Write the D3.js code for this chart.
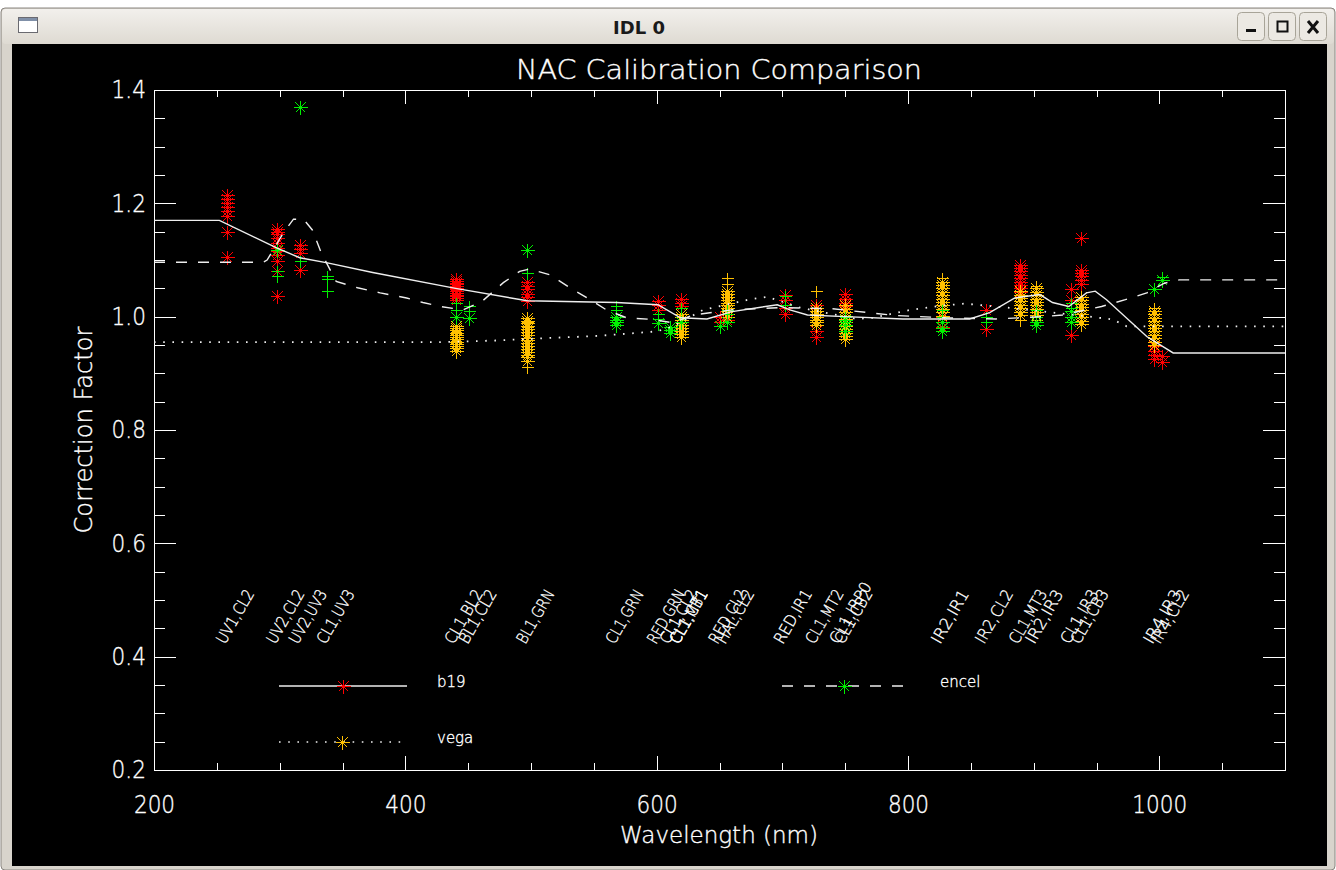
<!DOCTYPE html>
<html>
<head>
<meta charset="utf-8">
<script src="https://cdn.jsdelivr.net/npm/d3@7"></script>
<style>
  html, body { margin: 0; padding: 0; background: #ffffff; }
  svg { display: block; }
  .thin { font-family: "DejaVu Sans", sans-serif; font-weight: 200; fill: #ffffff; stroke: #ffffff; stroke-width: 0.35px; }
</style>
</head>
<body>
<svg id="chart" width="1336" height="870"></svg>
<script>
// ---- filter combinations and their effective wavelengths (nm) ----
const filterLabels = ["UV1,CL2","UV2,CL2","UV2,UV3","CL1,UV3","CL1,BL2","BL1,CL2","BL1,GRN",
  "CL1,GRN","RED,GRN","CL1,CL2","CL1,MT1","CL1,CB1","RED,CL2","HAL,CL2","RED,IR1","CL1,MT2",
  "CL1,IRP0","CL1,CB2","IR2,IR1","IR2,CL2","CL1,MT3","IR2,IR3","CL1,IR3","CL1,CB3","IR4,IR3","IR4,CL2"];
const filterWaves = [258,298,316,338,440,451,497,568,601,611,619,619,650,656,702,727,746,750,
  827,862,889,902,930,938,996,1002];

// ---- axis ticks ----
const xMajorTicks = [200,400,600,800,1000];
const yMajorTicks = [0.2,0.4,0.6,0.8,1.0,1.2,1.4];

// ---- correction curves: [wavelength, factor] ----
const b19Curve = [[200,1.170],[252,1.170],[298,1.121],[316,1.104],[338,1.095],[374,1.078],
  [440,1.050],[497,1.028],[568,1.025],[601,1.021],[619,0.998],[640,0.996],[660,1.009],
  [696,1.021],[706,1.012],[720,1.003],[750,1.000],[796,0.996],[849,0.996],[865,1.007],
  [885,1.033],[905,1.039],[915,1.025],[928,1.018],[942,1.042],[949,1.045],[958,1.030],
  [990,0.965],[1011,0.936],[1100,0.936]];
const encelCurve = [[200,1.096],[287,1.096],[290,1.100],[303,1.148],[311,1.172],[319,1.172],
  [326,1.153],[333,1.113],[345,1.062],[362,1.051],[380,1.042],[401,1.033],[414,1.025],
  [428,1.018],[446,1.012],[461,1.027],[478,1.060],[491,1.080],[499,1.084],[515,1.074],
  [531,1.051],[547,1.030],[560,1.012],[576,0.998],[597,0.995],[613,0.989],[629,1.003],
  [660,1.012],[700,1.016],[740,1.014],[790,1.002],[830,0.998],[870,0.996],[908,1.000],
  [923,1.003],[954,1.018],[973,1.030],[990,1.042],[1004,1.059],[1016,1.065],[1100,1.065]];
const vegaCurve = [[200,0.955],[427,0.955],[473,0.958],[510,0.962],[553,0.966],[600,0.974],
  [613,0.983],[637,1.012],[673,1.030],[688,1.035],[714,1.016],[759,0.996],[772,0.998],
  [802,1.012],[825,1.019],[845,1.023],[879,1.016],[945,1.000],[963,0.995],[974,0.983],
  [1100,0.983]];

// ---- measured factors: [wavelength, factor] ----
const b19Stars = [
  [258,1.215],[258,1.208],[258,1.200],[258,1.193],[258,1.186],[258,1.178],[258,1.150],[258,1.106],
  [298,1.155],[298,1.150],[298,1.145],[298,1.138],[298,1.130],[298,1.122],[298,1.115],[298,1.108],[298,1.098],[298,1.080],[298,1.036],
  [316,1.127],[316,1.120],[316,1.112],[316,1.083],
  [440,1.066],[440,1.063],[440,1.060],[440,1.057],[440,1.054],[440,1.051],[440,1.048],[440,1.045],[440,1.042],[440,1.039],[440,1.036],[440,1.033],[440,1.030],
  [497,1.062],[497,1.055],[497,1.048],[497,1.040],[497,1.034],[497,1.028],
  [601,1.027],[601,1.020],[601,1.012],
  [619,1.032],[619,1.025],[619,1.018],
  [650,1.000],[650,0.990],[656,0.995],
  [702,1.038],[702,1.030],[702,1.015],[702,1.005],
  [727,1.020],[727,0.974],[727,0.965],
  [750,1.040],[750,1.032],[750,1.025],[750,1.018],
  [827,1.000],[827,0.990],[827,0.982],
  [862,1.012],[862,0.978],
  [889,1.092],[889,1.086],[889,1.080],[889,1.074],[889,1.068],[889,1.062],[889,1.056],[889,1.050],[889,1.044],
  [930,1.048],[930,1.030],[930,0.968],
  [938,1.139],[938,1.083],[938,1.077],[938,1.071],[938,1.065],[938,1.058],
  [996,0.955],[996,0.948],[996,0.940],[996,0.933],[996,0.925],[1002,0.930],[1002,0.920]];
const encelStars = [
  [298,1.118],[316,1.370],[440,1.000],[451,0.998],[497,1.117],
  [568,1.000],[568,0.995],[568,0.990],[568,0.985],[601,0.989],
  [611,0.982],[611,0.977],[611,0.972],[619,0.990],[650,0.983],[656,0.990],
  [750,0.995],[750,0.985],[750,0.975],[827,0.990],[827,0.980],[827,0.975],
  [902,0.990],[902,0.985],[930,1.010],[930,1.000],[930,0.990],[996,1.048],[1002,1.065]];
const encelPluses = [
  [298,1.080],[298,1.072],[316,1.098],[338,1.071],[338,1.066],[338,1.046],
  [440,1.025],[440,1.012],[451,1.018],[451,1.010],[497,1.077],[568,1.018],[568,1.012],
  [601,1.004],[601,0.996],[619,1.015],[656,1.012],[656,1.005],[702,1.036],[702,1.020],
  [750,1.000],[750,0.990],[827,1.012],[827,1.000],[862,1.000],[862,0.990],
  [902,1.012],[902,1.000],[930,1.025],[930,1.015],[1002,1.070]];
const vegaStars = [
  [440,0.984],[440,0.980],[440,0.976],[440,0.972],[440,0.968],[440,0.964],[440,0.960],[440,0.956],[440,0.952],[440,0.948],[440,0.944],[440,0.940],
  [497,0.998],[497,0.993],[497,0.988],[497,0.983],[497,0.978],[497,0.973],[497,0.968],[497,0.963],[497,0.958],[497,0.953],[497,0.948],[497,0.943],[497,0.938],[497,0.933],[497,0.928],[497,0.922],
  [619,1.005],[619,1.000],[619,0.995],[619,0.990],[619,0.985],[619,0.980],[619,0.975],[619,0.970],[619,0.965],
  [656,1.045],[656,1.040],[656,1.035],[656,1.030],[656,1.025],[656,1.020],[656,1.015],[656,1.010],[656,1.005],[656,1.000],
  [727,1.015],[727,1.010],[727,1.005],[727,1.000],[727,0.995],[727,0.990],[727,0.985],
  [750,1.020],[750,1.014],[750,1.008],[750,1.002],[750,0.996],[750,0.990],[750,0.984],[750,0.978],[750,0.972],[750,0.966],[750,0.960],
  [827,1.062],[827,1.056],[827,1.050],[827,1.044],[827,1.038],[827,1.032],[827,1.026],[827,1.020],[827,1.014],[827,1.008],[827,1.002],
  [889,1.045],[889,1.039],[889,1.033],[889,1.027],[889,1.021],[889,1.015],[889,1.009],[889,1.003],
  [902,1.050],[902,1.044],[902,1.038],[902,1.032],[902,1.026],[902,1.020],[902,1.014],[902,1.008],[902,1.003],
  [938,1.035],[938,1.029],[938,1.023],[938,1.017],[938,1.011],[938,1.005],[938,0.999],[938,0.993],[938,0.987],
  [996,1.010],[996,1.004],[996,0.998],[996,0.992],[996,0.986],[996,0.980],[996,0.974],[996,0.968],[996,0.962],[996,0.956],[996,0.950]];
const vegaPluses = [
  [497,0.990],[497,0.982],[497,0.912],[656,1.068],[656,1.058],[727,1.045],
  [827,1.068],[889,0.995],[902,1.055],[902,0.995],[996,1.015]];

// ---- legend entries ----
const legendNames = ["b19","encel","vega"];

const colors = { b19: "#ff0000", encel: "#00f000", vega: "#ffc000", line: "#eeeeee" };
const dashPattern = "11,11";
const dotPattern = "1.6,7.6";

const svg = d3.select("#chart");

// window frame
svg.append("rect").attr("x",0).attr("y",0).attr("width",1336).attr("height",870).attr("fill","#ffffff");
svg.append("rect").attr("x",1).attr("y",8).attr("width",1334).attr("height",862).attr("rx",4)
  .attr("fill","#d8d4cc").attr("stroke","#8a8680");
const grad = svg.append("defs").append("linearGradient").attr("id","tbar").attr("x1",0).attr("y1",0).attr("x2",0).attr("y2",1);
grad.append("stop").attr("offset","0%").attr("stop-color","#f2f0ec");
grad.append("stop").attr("offset","100%").attr("stop-color","#dedad2");
svg.append("rect").attr("x",2).attr("y",9).attr("width",1332).attr("height",35).attr("rx",4).attr("fill","url(#tbar)");
svg.append("text").attr("x",639).attr("y",34).attr("text-anchor","middle")
  .style("font-family","'DejaVu Sans', sans-serif").style("font-weight","bold").style("font-size","18px")
  .attr("fill","#1a1a1a").text("IDL 0");
// window menu icon
svg.append("rect").attr("x",18.5).attr("y",17.5).attr("width",19).attr("height",15).attr("fill","#ffffff").attr("stroke","#6a6a70");
svg.append("rect").attr("x",19).attr("y",18).attr("width",18).attr("height",3).attr("fill","#8090a8");
// title bar buttons
const btnX = [1237,1268,1299];
btnX.forEach(bx => {
  svg.append("rect").attr("x",bx+0.5).attr("y",12.5).attr("width",27).attr("height",28).attr("rx",4)
    .attr("fill","#ece9e3").attr("stroke","#a8a498");
});
svg.append("rect").attr("x",1246).attr("y",29).attr("width",10).attr("height",3).attr("fill","#111");
svg.append("rect").attr("x",1277.5).attr("y",21.5).attr("width",10).attr("height",10).attr("fill","none").attr("stroke","#111").attr("stroke-width",2);
svg.append("path").attr("d","M1308,21L1318,33M1318,21L1308,33").attr("stroke","#111").attr("stroke-width",3);

// plotting canvas
svg.append("rect").attr("x",12).attr("y",44).attr("width",1315).attr("height",822).attr("fill","#000000");

const x = d3.scaleLinear().domain([200,1100]).range([154,1285]);
const y = d3.scaleLinear().domain([0.2,1.4]).range([770,90]);

const g = svg.append("g").attr("shape-rendering","crispEdges");

// tick labels: tall, narrow vector-style digits
function styleAxis(sel) {
  sel.select(".domain").attr("stroke","#ffffff");
  sel.selectAll(".tick line").attr("stroke","#ffffff");
  sel.selectAll(".tick text").attr("class","thin").attr("fill","#ffffff")
    .style("font-size","24px").attr("transform","scale(0.9,1)");
}
const xMinor = d3.range(200,1101,50);
const yMinor = d3.range(0.2,1.401,0.05);

// bottom / top axes
g.append("g").attr("transform","translate(0,770)")
  .call(d3.axisBottom(x).tickValues(xMinor).tickSize(-7).tickFormat("")).call(styleAxis);
g.append("g").attr("transform","translate(0,770)")
  .call(d3.axisBottom(x).tickValues(xMajorTicks).tickSize(-14).tickPadding(26).tickFormat(d3.format("d")))
  .call(styleAxis);
g.append("g").attr("transform","translate(0,90)")
  .call(d3.axisTop(x).tickValues(xMinor).tickSize(-7).tickFormat("")).call(styleAxis);
g.append("g").attr("transform","translate(0,90)")
  .call(d3.axisTop(x).tickValues(xMajorTicks).tickSize(-14).tickFormat("")).call(styleAxis);
// left / right axes
g.append("g").attr("transform","translate(154,0)")
  .call(d3.axisLeft(y).tickValues(yMinor).tickSize(-11).tickFormat("")).call(styleAxis);
g.append("g").attr("transform","translate(154,0)")
  .call(d3.axisLeft(y).tickValues(yMajorTicks).tickSize(-22).tickPadding(9).tickFormat(d3.format(".1f")))
  .call(styleAxis);
g.append("g").attr("transform","translate(1285,0)")
  .call(d3.axisRight(y).tickValues(yMinor).tickSize(-11).tickFormat("")).call(styleAxis);
g.append("g").attr("transform","translate(1285,0)")
  .call(d3.axisRight(y).tickValues(yMajorTicks).tickSize(-22).tickFormat("")).call(styleAxis);

// titles
svg.append("text").attr("class","thin").attr("x",719).attr("y",79).attr("text-anchor","middle")
  .style("font-size","27px").attr("textLength",406).attr("lengthAdjust","spacingAndGlyphs")
  .text("NAC Calibration Comparison");
svg.append("text").attr("class","thin").attr("x",719).attr("y",843).attr("text-anchor","middle")
  .style("font-size","23px").attr("textLength",198).attr("lengthAdjust","spacingAndGlyphs")
  .text("Wavelength (nm)");
svg.append("text").attr("class","thin").attr("transform","translate(92,430) rotate(-90)").attr("text-anchor","middle")
  .style("font-size","25px").attr("textLength",207).attr("lengthAdjust","spacingAndGlyphs")
  .text("Correction Factor");

// markers
const starPath = "M0,-7V7M-7,0H7M-5,-5L5,5M-5,5L5,-5";
const plusPath = "M-6,0H6M0,-6V6";
svg.append("clipPath").attr("id","plotClip").append("rect")
  .attr("x",154).attr("y",90).attr("width",1131).attr("height",680);
const marks = svg.append("g").attr("clip-path","url(#plotClip)").attr("shape-rendering","crispEdges");

function drawMarks(data, path, color) {
  marks.append("g").selectAll("path").data(data).join("path")
    .attr("transform", d => `translate(${Math.round(x(d[0]))+0.5},${Math.round(y(d[1]))+0.5})`)
    .attr("d", path).attr("fill","none").attr("stroke", color).attr("stroke-width",1);
}
drawMarks(b19Stars, starPath, colors.b19);
drawMarks(vegaStars, starPath, colors.vega);
drawMarks(vegaPluses, plusPath, colors.vega);
drawMarks(encelStars, starPath, colors.encel);
drawMarks(encelPluses, plusPath, colors.encel);

// correction curves
const line = d3.line().x(d => x(d[0])).y(d => y(d[1]));
const lines = svg.append("g").attr("clip-path","url(#plotClip)");
lines.append("path").datum(b19Curve).attr("d",line).attr("fill","none").attr("stroke",colors.line).attr("stroke-width",1.4);
lines.append("path").datum(encelCurve).attr("d",line).attr("fill","none").attr("stroke",colors.line).attr("stroke-width",1.4).attr("stroke-dasharray",dashPattern);
lines.append("path").datum(vegaCurve).attr("d",line).attr("fill","none").attr("stroke",colors.line).attr("stroke-width",1.8).attr("stroke-dasharray",dotPattern);

// filter labels along the bottom
svg.append("g").selectAll("text").data(filterLabels).join("text")
  .attr("class","thin")
  .attr("transform",(d,i) => `translate(${x(filterWaves[i]) - 2},645) rotate(-60)`)
  .style("font-size","16px").attr("textLength", d => d.length*8.5).attr("lengthAdjust","spacingAndGlyphs")
  .text(d => d);

// legend
const legendRows = [
  {name:legendNames[0], color:colors.b19, x0:279, x1:407, y:686, dash:null, tx:437},
  {name:legendNames[1], color:colors.encel, x0:782, x1:905, y:686, dash:dashPattern, tx:940},
  {name:legendNames[2], color:colors.vega, x0:279, x1:404, y:742, dash:dotPattern, tx:437}
];
const lg = svg.append("g");
legendRows.forEach(r => {
  lg.append("line").attr("x1",r.x0).attr("x2",r.x1).attr("y1",r.y).attr("y2",r.y)
    .attr("stroke",colors.line).attr("stroke-width",1.6).attr("stroke-dasharray",r.dash);
  lg.append("path").attr("transform",`translate(${Math.round((r.x0+r.x1)/2)+0.5},${r.y+0.5})`).attr("d",starPath)
    .attr("stroke",r.color).attr("fill","none").attr("shape-rendering","crispEdges");
  lg.append("text").attr("class","thin").attr("x",r.tx).attr("y",r.y+1).style("font-size","15px").text(r.name);
});
</script>
</body>
</html>
